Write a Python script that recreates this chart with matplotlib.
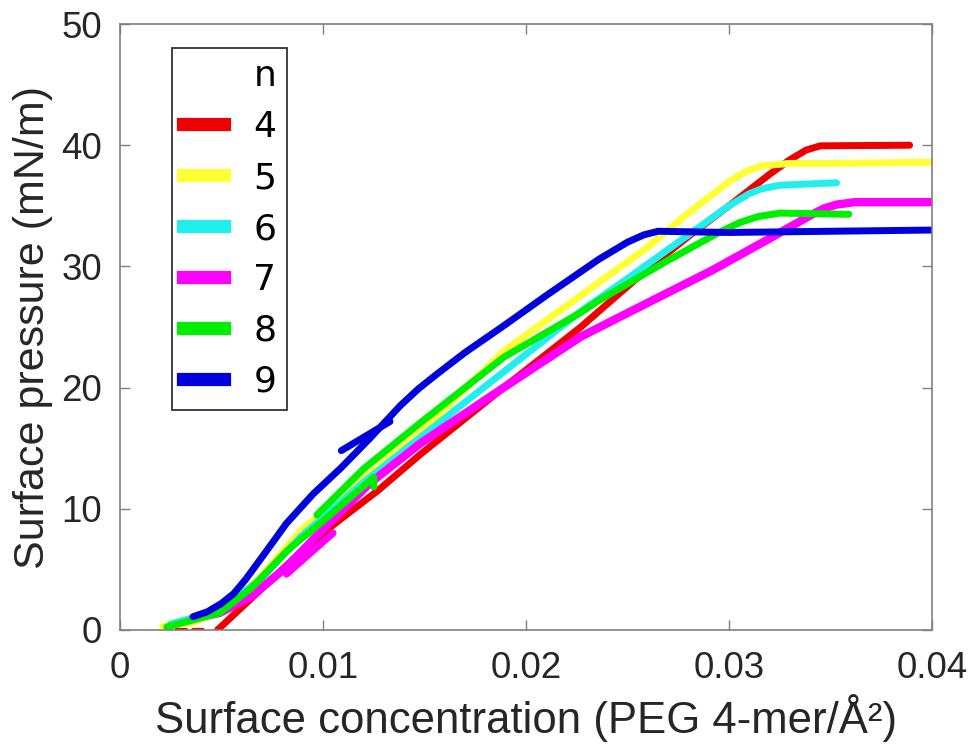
import matplotlib
matplotlib.use('Agg')
import matplotlib.pyplot as plt
from matplotlib.lines import Line2D

# isotherm data (x: PEG 4-mer / A^2, y: mN/m)
n4_x = [0.0048, 0.0064, 0.0085, 0.0106, 0.0127, 0.0148, 0.0189, 0.0227, 0.0260, 0.0281, 0.0300, 0.0320, 0.0330, 0.0338, 0.0345, 0.0389]
n4_y = [0.0, 2.5, 5.8, 8.8, 11.5, 14.5, 20.0, 25.0, 29.8, 32.6, 35.0, 37.6, 38.8, 39.6, 39.95, 40.0]
n4_tail_x = [0.0027, 0.0043]
n4_tail_y = [0.0, 0.0]

n5_x = [0.0021, 0.0035, 0.0049, 0.0070, 0.0089, 0.0120, 0.0148, 0.0189, 0.0227, 0.0260, 0.0280, 0.0300, 0.0308, 0.0316, 0.0330, 0.0350, 0.0400]
n5_y = [0.3, 0.6, 1.5, 4.5, 8.2, 12.5, 16.3, 23.0, 27.6, 31.6, 34.4, 37.0, 37.8, 38.3, 38.5, 38.5, 38.6]

n6_x = [0.0025, 0.0049, 0.0070, 0.0089, 0.0120, 0.0148, 0.0189, 0.0227, 0.0250, 0.0280, 0.0300, 0.0310, 0.0316, 0.0325, 0.0353]
n6_y = [0.5, 1.6, 4.3, 7.7, 12.2, 15.9, 21.3, 26.3, 29.0, 32.6, 35.0, 36.0, 36.4, 36.7, 36.9]

n7_x = [0.0036, 0.0049, 0.0065, 0.0082, 0.0100, 0.0123, 0.0148, 0.0189, 0.0227, 0.0260, 0.0292, 0.0320, 0.0340, 0.0347, 0.0353, 0.0362, 0.0400]
n7_y = [1.0, 1.4, 2.8, 5.2, 8.3, 12.1, 15.4, 20.0, 24.2, 27.0, 29.7, 32.3, 34.2, 34.8, 35.1, 35.3, 35.3]
n7_seg_x = [0.0082, 0.0105]
n7_seg_y = [4.6, 8.0]

n8_x = [0.0023, 0.0049, 0.0065, 0.0082, 0.0100, 0.0125, 0.0125]
n8_y = [0.25, 1.4, 3.5, 6.5, 9.0, 12.6, 11.8]
n8_up_x = [0.0097, 0.0120, 0.0148, 0.0189, 0.0227, 0.0236, 0.0270, 0.0295, 0.0305, 0.0314, 0.0325, 0.0359]
n8_up_y = [9.5, 13.3, 17.1, 22.5, 26.2, 27.2, 30.5, 32.8, 33.6, 34.1, 34.4, 34.3]

n9_x = [0.0036, 0.0043, 0.0050, 0.0056, 0.0062, 0.0069, 0.0082, 0.0095, 0.0109, 0.0123, 0.0138, 0.0147, 0.0156, 0.0170, 0.0189, 0.0210, 0.0236, 0.0250, 0.0258, 0.0265, 0.0300, 0.0400]
n9_y = [1.1, 1.5, 2.2, 3.0, 4.2, 5.8, 8.8, 11.2, 13.4, 15.8, 18.5, 19.9, 21.1, 22.9, 25.1, 27.6, 30.6, 32.0, 32.6, 32.9, 32.8, 33.0]
n9_seg_x = [0.0109, 0.0133]
n9_seg_y = [14.8, 17.2]

labels = ['4', '5', '6', '7', '8', '9']
colors = ['#ee0000', '#ffff33', '#22eeee', '#ff00ff', '#00ee00', '#0000dd']

fig = plt.figure(figsize=(9.72, 7.46), dpi=100)
ax = fig.add_axes([0.1235, 0.1555, 0.8353, 0.8123])

lw = 5
ax.plot(n4_x, n4_y, color=colors[0], lw=lw, solid_capstyle='round')
ax.plot(n4_tail_x, n4_tail_y, color=colors[0], lw=3, ls=(0, (3, 1)))
ax.plot(n5_x, n5_y, color=colors[1], lw=lw, solid_capstyle='round')
ax.plot(n6_x, n6_y, color=colors[2], lw=lw, solid_capstyle='round')
ax.plot(n7_x, n7_y, color=colors[3], lw=lw + 1, solid_capstyle='round')
ax.plot(n7_seg_x, n7_seg_y, color=colors[3], lw=lw, solid_capstyle='round')
ax.plot(n8_x, n8_y, color=colors[4], lw=lw, solid_capstyle='round')
ax.plot(n8_up_x, n8_up_y, color=colors[4], lw=lw, solid_capstyle='round')
ax.plot(n9_x, n9_y, color=colors[5], lw=lw, solid_capstyle='round')
ax.plot(n9_seg_x, n9_seg_y, color=colors[5], lw=lw, solid_capstyle='round')

ax.set_xlim(0, 0.04)
ax.set_ylim(0, 50)
ax.set_xticks([0, 0.01, 0.02, 0.03, 0.04])
ax.set_xticklabels(['0', '0.01', '0.02', '0.03', '0.04'])
ax.set_yticks([0, 10, 20, 30, 40, 50])

grey = '#262626'
for s in ax.spines.values():
    s.set_color('#808080')
    s.set_linewidth(1.2)
ax.tick_params(direction='in', length=7, width=1, colors='#808080', top=True, right=True)
ax.tick_params(axis='x', pad=15)
ax.tick_params(axis='y', pad=13)
for t in ax.get_xticklabels() + ax.get_yticklabels():
    t.set_color(grey)
    t.set_fontsize(26.5)
    t.set_family(['Liberation Sans', 'DejaVu Sans'])

ax.set_xlabel('Surface concentration (PEG 4-mer/Å²)', fontsize=31.5, color=grey,
              family=['Liberation Sans', 'DejaVu Sans'], labelpad=6)
ax.set_ylabel('Surface pressure (mN/m)', fontsize=31, color=grey,
              family=['Liberation Sans', 'DejaVu Sans'], labelpad=6)

handles = [Line2D([], [], color='none')] + [Line2D([], [], color=c, lw=9.5) for c in colors]
leg = ax.legend(handles, ['n'] + labels, loc='upper left', bbox_to_anchor=(0.064, 0.960),
                borderaxespad=0, fontsize=26, frameon=True, fancybox=False,
                handlelength=1.15, handletextpad=0.8, labelspacing=0.47, borderpad=0.3)
leg.get_frame().set_edgecolor('black')
leg.get_frame().set_linewidth(1.3)

fig.savefig('out.png', dpi=100, facecolor='white')
